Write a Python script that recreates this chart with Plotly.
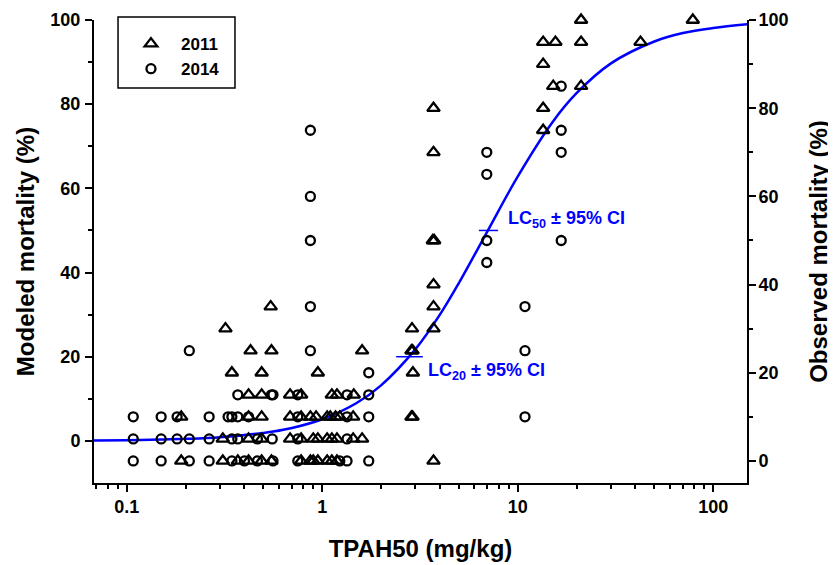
import plotly.graph_objects as go
import math

# ---- observed data (right axis, observed mortality %) ----
x_2011 = [0.19, 0.31, 0.37, 0.42, 0.49, 0.55, 0.78, 0.87, 0.90, 0.95, 1.06, 1.12, 1.19, 3.71,
          0.31, 0.42, 0.49, 0.685, 0.78, 0.90, 0.95, 1.06, 1.12, 1.19, 1.44, 1.60,
          0.19, 0.42, 0.49, 0.685, 0.78, 0.87, 0.93, 1.06, 1.10, 1.17, 1.23, 1.44, 2.86, 2.90,
          0.42, 0.49, 0.685, 0.78, 1.12, 1.19, 1.45,
          0.345, 0.49, 0.95, 2.91,
          0.43, 0.55, 1.60, 2.86, 2.90,
          0.32, 2.88, 3.71,
          0.545, 3.71,
          3.71,
          3.68, 3.74,
          3.71,
          13.5,
          3.71, 13.5,
          15.2, 21.1,
          13.5,
          13.5, 15.6, 21.1, 42.5,
          21.1, 78.7]
y_2011 = [0] * 14 + [5] * 12 + [10] * 14 + [15] * 7 + [20] * 4 + [25] * 5 + [30] * 3 + \
         [35] * 2 + [40] + [50] * 2 + [70] + [75] + [80] * 2 + [85] * 2 + [90] + [95] * 4 + [100] * 2

x_2014 = [0.108, 0.15, 0.209, 0.264, 0.345, 0.40, 0.466, 0.56, 0.75, 1.23, 1.34, 1.73,
          0.108, 0.15, 0.181, 0.209, 0.264, 0.345, 0.37, 0.466, 0.555, 0.75, 1.34,
          0.108, 0.15, 0.181, 0.264, 0.33, 0.345, 0.37, 0.42, 0.75, 1.34, 1.73, 10.9,
          0.37, 0.55, 0.56, 0.75, 1.34, 1.73,
          1.73,
          0.209, 0.87, 10.9,
          0.87, 10.9,
          6.95,
          0.87, 6.95, 16.7,
          0.87,
          6.95,
          6.95, 16.7,
          0.87, 16.7,
          16.7]
y_2014 = [0] * 12 + [5] * 11 + [10] * 12 + [15] * 6 + [20] + [25] * 3 + [35] * 2 + [45] + \
         [50] * 3 + [60] + [65] + [70] * 2 + [75] * 2 + [85]

# ---- modeled curve (left axis, modeled mortality %) ----
curve_x = [0.068, 0.1, 0.15, 0.2, 0.3, 0.5, 0.7, 1, 1.5, 2, 3, 4, 5, 7, 10, 15, 20, 30, 50, 70, 100, 150]
curve_y = [0.10, 0.17, 0.32, 0.49, 0.89, 1.89, 3.08, 5.14, 9.0, 13.2, 21.8, 30.0, 37.5, 49.8,
           62.8, 75.6, 82.6, 89.7, 94.9, 96.9, 98.1, 99.0]

# ---- LC estimates with 95% CI ----
lc_levels = [20, 50]
lc_values = [2.79, 7.04]
lc_lower = [2.39, 6.33]
lc_upper = [3.27, 7.93]
lc_labels = ["LC<sub>20</sub> ± 95% CI", "LC<sub>50</sub> ± 95% CI"]
lc_label_x = [3.40, 8.70]
lc_label_y = [16.6, 52.5]

FONT = "Liberation Sans, Arial, Helvetica, sans-serif"
BLUE = "#0000FF"

fig = go.Figure()

fig.add_trace(go.Scatter(
    x=curve_x, y=curve_y, mode="lines", line=dict(color=BLUE, width=2.5, shape="spline"),
    showlegend=False, hoverinfo="skip", yaxis="y"))

fig.add_trace(go.Scatter(
    x=lc_values, y=lc_levels, mode="markers",
    marker=dict(size=1, color="rgba(0,0,0,0)"),
    error_x=dict(type="data", symmetric=False,
                 array=[u - v for u, v in zip(lc_upper, lc_values)],
                 arrayminus=[v - l for v, l in zip(lc_values, lc_lower)],
                 color=BLUE, thickness=1.5, width=0),
    showlegend=False, yaxis="y"))

fig.add_trace(go.Scatter(
    x=x_2011, y=y_2011, mode="markers", name="2011", yaxis="y2", cliponaxis=False,
    marker=dict(symbol="triangle-up-open", size=11, color="black", line=dict(width=2.3, color="black"))))

fig.add_trace(go.Scatter(
    x=x_2014, y=y_2014, mode="markers", name="2014", yaxis="y2", cliponaxis=False,
    marker=dict(symbol="circle-open", size=9, color="black", line=dict(width=2.3, color="black"))))

for lab, lx, ly in zip(lc_labels, lc_label_x, lc_label_y):
    fig.add_annotation(x=math.log10(lx), y=ly, xref="x", yref="y", text=lab, showarrow=False,
                       xanchor="left", yanchor="middle",
                       font=dict(family=FONT, size=18, color=BLUE, weight="bold"))

# legend frame
fig.add_shape(type="rect", xref="paper", yref="paper", x0=0.0368, x1=0.2159, y0=0.8531, y1=1.0065,
              line=dict(color="black", width=1.5), fillcolor="rgba(0,0,0,0)", layer="above")

tickfont = dict(family=FONT, size=18, color="black", weight="bold")
titlefont = dict(family=FONT, size=24, color="black", weight="bold")

fig.update_layout(
    width=828, height=557,
    margin=dict(l=86, r=89, t=12, b=82),
    paper_bgcolor="white", plot_bgcolor="white",
    font=dict(family=FONT, color="black"),
    xaxis=dict(type="log", range=[math.log10(0.068), math.log10(149)], automargin=False,
               tickvals=[0.1, 1, 10, 100], ticktext=["0.1", "1", "10", "100"],
               ticks="outside", ticklen=7, tickwidth=2, tickcolor="black",
               showline=True, linewidth=2, linecolor="black", mirror=False,
               showgrid=False, zeroline=False, tickfont=tickfont, ticklabelstandoff=-1,
               minor=dict(ticks="outside", ticklen=4, tickwidth=1.5, tickcolor="black",
                          tickvals=[0.07, 0.08, 0.09, 0.2, 0.3, 0.4, 0.5, 0.6, 0.7, 0.8, 0.9,
                                    2, 3, 4, 5, 6, 7, 8, 9, 20, 30, 40, 50, 60, 70, 80, 90],
                          showgrid=False),
               title=dict(text="TPAH50 (mg/kg)", font=titlefont, standoff=25)),
    yaxis=dict(range=[-10, 100], tickvals=[0, 20, 40, 60, 80, 100], automargin=False,
               ticks="outside", ticklen=7, tickwidth=2, tickcolor="black",
               showline=True, linewidth=2, linecolor="black",
               showgrid=False, zeroline=False, tickfont=tickfont, ticklabelstandoff=1,
               minor=dict(ticks="outside", ticklen=4, tickwidth=1.5, tickcolor="black",
                          tickvals=[10, 30, 50, 70, 90], showgrid=False),
               title=dict(text="Modeled mortality (%)", font=titlefont, standoff=9)),
    yaxis2=dict(range=[-5, 100], overlaying="y", side="right", automargin=False,
                tickvals=[0, 20, 40, 60, 80, 100],
                ticks="outside", ticklen=7, tickwidth=2, tickcolor="black",
                showline=True, linewidth=2, linecolor="black",
                showgrid=False, zeroline=False, tickfont=tickfont, ticklabelstandoff=-1,
                minor=dict(ticks="outside", ticklen=4, tickwidth=1.5, tickcolor="black",
                           tickvals=[10, 30, 50, 70, 90], showgrid=False),
                title=dict(text="Observed mortality (%)", font=titlefont, standoff=23)),
    legend=dict(x=0.0413, y=0.987, xanchor="left", yanchor="top",
                borderwidth=0, bgcolor="rgba(0,0,0,0)", itemwidth=50,
                font=dict(family=FONT, size=17, color="black", weight="bold")),
)

fig.write_html("out.html")
